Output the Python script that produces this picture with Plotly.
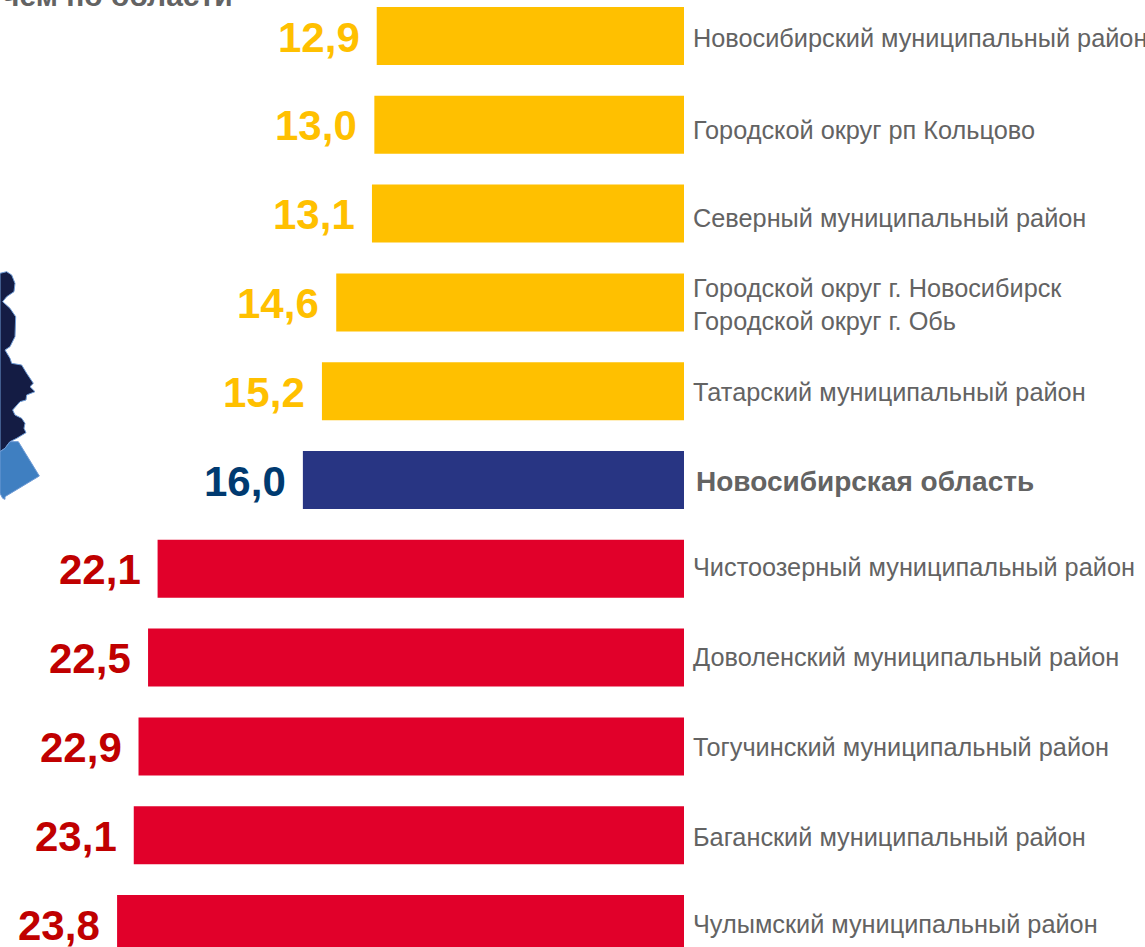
import plotly.graph_objects as go

labels = ["Новосибирский муниципальный район", "Городской округ рп Кольцово", "Северный муниципальный район",
          "Городской округ г. Новосибирск<br>Городской округ г. Обь", "Татарский муниципальный район",
          "<b>Новосибирская область</b>", "Чистоозерный муниципальный район", "Доволенский муниципальный район",
          "Тогучинский муниципальный район", "Баганский муниципальный район", "Чулымский муниципальный район"]
values = [12.9, 13.0, 13.1, 14.6, 15.2, 16.0, 22.1, 22.5, 22.9, 23.1, 23.8]
value_text = ["12,9", "13,0", "13,1", "14,6", "15,2", "16,0", "22,1", "22,5", "22,9", "23,1", "23,8"]
bar_colors = ["#FFC000"] * 5 + ["#283583"] + ["#E1002A"] * 5
text_colors = ["#FFC000"] * 5 + ["#003A70"] + ["#C00000"] * 5
label_shift = [-2, -5, -4, -2, -1, -1, 2, 1, -1, -2, 0]

W, H = 1145, 947
map_dark = [(0,40),(20,35),(35,45),(45,70),(42,95),(20,110),(8,125),(30,145),(47,170),(45,230),(30,260),(15,270),
            (30,295),(35,310),(65,315),(80,340),(100,370),(90,380),(105,395),(80,405),(78,420),(60,425),(38,450),
            (45,465),(65,475),(75,490),(72,505),(78,518),(50,535),(30,545),(15,565),(0,575)]
map_light = [(0,575),(15,565),(30,545),(55,545),(118,648),(15,710),(15,718),(8,715),(0,700)]

def path(pts):
    p = [(x / 3 / W, 1 - (260 + y / 3) / H) for x, y in pts]
    return "M " + " L ".join(f"{a:.5f},{b:.5f}" for a, b in p) + " Z"

fig = go.Figure(go.Bar(x=values, y=list(range(len(values))), orientation="h", marker_color=bar_colors,
                       marker_line_width=0, width=0.653, hoverinfo="skip"))

for i, (v, t, c, l, s) in enumerate(zip(values, value_text, text_colors, labels, label_shift)):
    fig.add_annotation(x=v, y=i, text=f"<b>{t}</b>", showarrow=False, xanchor="right", xshift=-15, yshift=-1,
                       font=dict(family="Liberation Sans", size=42, color=c))
    fig.add_annotation(x=0, y=i, text=l, showarrow=False, xanchor="left", align="left",
                       xshift=10 if i == 5 else 7, yshift=s,
                       font=dict(family="Liberation Sans", size=28 if i == 5 else 25.3, color="#636363"))

fig.add_annotation(xref="paper", yref="paper", x=235 / W, y=1 + 4 / H, xanchor="right", yanchor="middle",
                   text="<b>чем по области</b>", showarrow=False,
                   font=dict(family="Liberation Sans", size=30, color="#636363"))

for pts, col in ((map_dark, "#141C44"), (map_light, "#3F7FC1")):
    fig.add_shape(type="path", xref="paper", yref="paper", path=path(pts), fillcolor=col,
                  line=dict(color="#6E9BD6", width=1), layer="above")

fig.update_layout(width=W, height=H, margin=dict(l=0, r=0, t=0, b=0), paper_bgcolor="white", plot_bgcolor="white",
                  showlegend=False,
                  xaxis=dict(range=[684 / 23.82, (684 - W) / 23.82], visible=False),
                  yaxis=dict(range=[(H - 36) / 88.8, -36 / 88.8], visible=False))

fig.write_html("out.html", config=dict(displayModeBar=False),
               post_script="document.body.style.margin='0';document.documentElement.style.overflow='hidden';")
